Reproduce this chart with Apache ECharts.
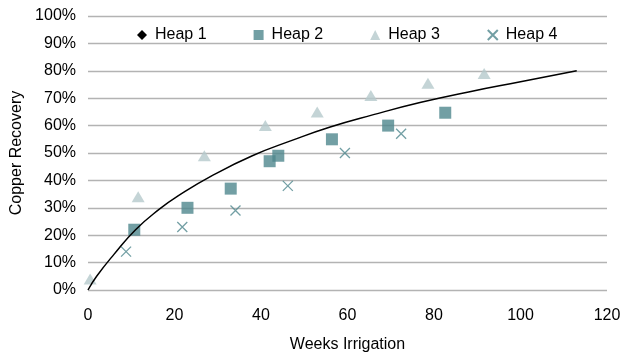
<!DOCTYPE html>
<html>
<head>
<meta charset="utf-8">
<script src="https://cdn.jsdelivr.net/npm/echarts@6/dist/echarts.min.js"></script>
<style>
  html, body { margin: 0; padding: 0; background: #fff; }
  #chart { width: 635px; height: 358px; }
</style>
</head>
<body>
<div id="chart"></div>
<script>
// fitted curve (Heap 1)
const fitX = [0, 2, 6, 11, 16.5, 21, 29, 38, 47, 56, 66, 77, 88, 100, 113]
const fitY = [0, 5, 13, 22, 29.5, 34.5, 42, 49, 54.5, 59.5, 64, 68.5, 72.3, 76, 80]
const heap2X = [10.7, 23, 33, 42, 44, 56.4, 69.4, 82.6]
const heap2Y = [22, 30, 37, 47, 49, 55, 60, 64.7]
const heap3X = [0.5, 11.6, 26.9, 41, 53, 65.4, 78.6, 91.6]
const heap3Y = [4, 34, 49, 60, 65, 71, 75.5, 79]
const heap4X = [8.8, 21.8, 34.1, 46.2, 59.4, 72.4]
const heap4Y = [14, 23, 29, 38, 50, 57]

const font = "'Liberation Sans', Arial, Helvetica, sans-serif"
const teal = '#4f878d'
const pale = '#b5c9cc'
const pair = (xs, ys) => xs.map((x, i) => [x, ys[i]])

const chart = echarts.init(document.getElementById('chart'))
chart.setOption({
    animation: false,
    textStyle: { fontFamily: font },
    grid: { left: 88, right: 28, top: 16, bottom: 64 },
    legend: {
        left: 132,
        top: 22,
        itemGap: 47,
        itemWidth: 10,
        itemHeight: 10,
        textStyle: { fontSize: 16, color: '#000', fontFamily: font, padding: [0, 0, 0, 3] },
        data: [
            { name: 'Heap 1', icon: 'diamond' },
            { name: 'Heap 2', icon: 'rect' },
            { name: 'Heap 3', icon: 'triangle' },
            { name: 'Heap 4' }
        ]
    },
    xAxis: {
        type: 'value',
        min: 0,
        max: 120,
        interval: 20,
        name: 'Weeks Irrigation',
        nameLocation: 'middle',
        nameGap: 47,
        nameTextStyle: { fontSize: 16, color: '#000' },
        axisLine: { show: false },
        axisTick: { show: false },
        splitLine: { show: false },
        axisLabel: { fontSize: 16, color: '#000', margin: 18 }
    },
    yAxis: {
        type: 'value',
        min: 0,
        max: 100,
        interval: 10,
        name: 'Copper Recovery',
        nameLocation: 'middle',
        nameGap: 56,
        nameTextStyle: { fontSize: 16, color: '#000' },
        axisLine: { show: false },
        axisTick: { show: false },
        splitLine: { lineStyle: { color: '#b3b3b3', width: 1.3 } },
        axisLabel: { fontSize: 16, color: '#000', margin: 12, formatter: '{value}%' }
    },
    series: [
        {
            name: 'Heap 1',
            type: 'line',
            smooth: 0.5,
            showSymbol: false,
            color: '#000',
            lineStyle: { color: '#000', width: 1.5 },
            data: pair(fitX, fitY)
        },
        {
            name: 'Heap 2',
            type: 'scatter',
            symbol: 'rect',
            symbolSize: 12,
            itemStyle: { color: teal },
            data: pair(heap2X, heap2Y)
        },
        {
            name: 'Heap 3',
            type: 'scatter',
            symbol: 'triangle',
            symbolSize: [13, 11],
            itemStyle: { color: pale },
            data: pair(heap3X, heap3Y)
        },
        {
            name: 'Heap 4',
            type: 'scatter',
            symbol: 'path://M0,0L10,10M10,0L0,10',
            symbolSize: 10,
            itemStyle: { color: 'transparent', borderColor: teal, borderWidth: 1.3 },
            data: pair(heap4X, heap4Y)
        }
    ]
})
</script>
</body>
</html>
